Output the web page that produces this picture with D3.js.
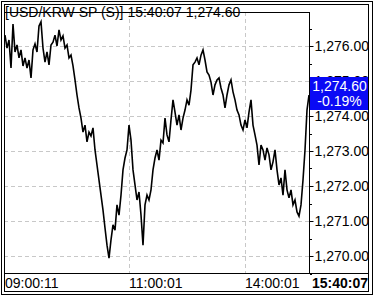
<!DOCTYPE html>
<html><head><meta charset="utf-8">
<script src="https://cdn.jsdelivr.net/npm/d3@7"></script>
<style>html,body{margin:0;padding:0;background:#fff;}svg{display:block;}</style>
</head><body>
<script>
// ---- data ----
const title = "[USD/KRW SP (S)] 15:40:07  1,274.60";
const lastPrice = "1,274.60";
const changePct = "-0.19%";
const prices = [
1276.31,1275.94,1276.17,1275.37,1276.63,1275.83,1276.03,1275.66,1275.89,1275.43,
1275.66,1275.37,1275.60,1275.09,1275.89,1276.06,1275.83,1276.57,1276.69,1275.94,
1275.54,1275.83,1275.46,1276.03,1276.11,1276.31,1276.00,1276.46,1276.17,1276.29,
1275.94,1276.03,1275.66,1275.74,1275.43,1275.03,1274.60,1274.23,1273.94,1273.54,
1273.74,1273.26,1273.54,1273.43,1273.66,1273.03,1272.60,1272.17,1271.74,1271.31,
1270.80,1270.31,1269.94,1270.46,1270.89,1270.74,1271.46,1271.17,1271.74,1272.46,
1272.80,1273.03,1273.74,1273.31,1272.46,1272.03,1271.60,1271.83,1271.17,1270.31,
1271.46,1271.74,1271.60,1271.89,1272.46,1272.80,1273.03,1272.74,1273.31,1273.23,
1273.94,1273.46,1273.26,1273.89,1274.46,1274.11,1273.74,1274.03,1273.60,1273.94,
1274.17,1274.46,1274.31,1274.74,1275.46,1275.54,1275.66,1275.46,1275.74,1275.89,
1275.60,1275.26,1275.17,1274.97,1274.60,1274.89,1275.03,1275.09,1274.80,1274.60,
1274.23,1274.60,1274.89,1275.03,1274.69,1274.46,1274.17,1274.03,1273.74,1273.60,
1273.89,1273.66,1274.11,1274.46,1273.74,1273.46,1273.17,1272.60,1273.17,1273.03,
1272.74,1273.09,1272.89,1272.46,1272.69,1273.03,1272.46,1272.03,1272.23,1271.74,
1272.46,1271.89,1271.66,1271.89,1271.46,1271.60,1271.26,1271.14,1271.46,1272.17,
1273.03,1274.17,1274.60
];
const xTickLabels = ["09:00:11", "11:00:01", "14:00:01"];
const xTickIndex = [0, 62, 120];
const lastTime = "15:40:07";
const yTicks = [1270, 1271, 1272, 1273, 1274, 1275, 1276];
const yMinorTicks = [1269.5, 1270.5, 1271.5, 1272.5, 1273.5, 1274.5, 1275.5, 1276.5];

// ---- layout ----
const W = 375, H = 297;
const plot = {l: 4, t: 12, r: 309, b: 273};
const fontFam = "'Liberation Sans', Arial, sans-serif";

const svg = d3.select("body").append("svg").attr("width", W).attr("height", H)
  .style("font-family", fontFam);

const x = d3.scaleLinear().domain([0, prices.length - 1]).range([5, 309]);
const y = d3.scaleLinear().domain([1270, 1276]).range([256, 46]);

// grid
const grid = svg.append("g").attr("stroke", "#c8c8c8").attr("stroke-dasharray", "4,3").attr("stroke-width", 1);
grid.selectAll("line.h").data(yTicks).join("line")
  .attr("x1", plot.l).attr("x2", plot.r)
  .attr("y1", d => Math.round(y(d)) + 0.5).attr("y2", d => Math.round(y(d)) + 0.5);
grid.selectAll("line.v").data(xTickIndex.slice(1)).join("line")
  .attr("x1", d => Math.round(x(d)) + 0.5).attr("x2", d => Math.round(x(d)) + 0.5)
  .attr("y1", plot.t).attr("y2", plot.b);

// clip for line
svg.append("clipPath").attr("id", "pc").append("rect")
  .attr("x", plot.l).attr("y", plot.t).attr("width", plot.r - plot.l).attr("height", plot.b - plot.t);

const line = d3.line().x((d, i) => x(i)).y(d => y(d));
svg.append("path").datum(prices).attr("d", line)
  .attr("fill", "none").attr("stroke", "#000").attr("stroke-width", 1.6)
  .attr("stroke-linejoin", "miter").attr("clip-path", "url(#pc)");

// y axis on the right
const clipR = svg.append("clipPath").attr("id", "rc").append("rect")
  .attr("x", 310).attr("y", 13).attr("width", 58).attr("height", 260);
const yAxis = d3.axisRight(y).tickValues(yTicks).tickSize(4).tickPadding(1)
  .tickFormat(d => d3.format(",.2f")(d));
const ga = svg.append("g").attr("transform", `translate(${plot.r + 0.5},0)`).call(yAxis)
  .attr("clip-path", "url(#rcx)");
ga.select(".domain").remove();
ga.selectAll("text").attr("font-size", 14).attr("fill", "#000").attr("font-family", fontFam)
  .attr("dy", "0.35em");
ga.selectAll("line").attr("stroke", "#000");
// minor ticks
svg.append("g").selectAll("line").data(yMinorTicks).join("line")
  .attr("x1", plot.r + 1).attr("x2", plot.r + 3)
  .attr("y1", d => Math.round(y(d)) + 0.5).attr("y2", d => Math.round(y(d)) + 0.5)
  .attr("stroke", "#000");
// clip labels at right inner frame
ga.attr("clip-path", null);
svg.append("rect").attr("x", 368).attr("y", 5).attr("width", 7).attr("height", 290).attr("fill", "#fff");

// price box
const boxY = y(+lastPrice.replace(/,/g, ""));
svg.append("rect").attr("x", 310).attr("y", 77).attr("width", 59).attr("height", 33).attr("fill", "#0a0af5");
svg.append("text").attr("x", 339.5).attr("y", 91).attr("text-anchor", "middle")
  .attr("font-size", 14).attr("fill", "#fff").text(lastPrice);
svg.append("text").attr("x", 339.5).attr("y", 106).attr("text-anchor", "middle")
  .attr("font-size", 14).attr("fill", "#fff").text(changePct);

// x labels
svg.append("g").selectAll("text").data(xTickIndex).join("text")
  .attr("x", (d, i) => i === 0 ? 5 : Math.round(x(d)))
  .attr("y", 288).attr("font-size", 14).attr("fill", "#000")
  .text((d, i) => xTickLabels[i]);
svg.append("text").attr("x", 368).attr("y", 288).attr("text-anchor", "end")
  .attr("font-size", 14).attr("font-weight", "bold").attr("fill", "#000").text(lastTime);

// frames
const fr = svg.append("g").attr("fill", "none").attr("stroke", "#000").attr("stroke-width", 1);
fr.append("rect").attr("x", 1.5).attr("y", 1.5).attr("width", 371).attr("height", 293);
fr.append("rect").attr("x", 4.5).attr("y", 4.5).attr("width", 364).attr("height", 287);
fr.append("line").attr("x1", 4).attr("x2", plot.r).attr("y1", plot.t + 0.5).attr("y2", plot.t + 0.5);
fr.append("line").attr("x1", plot.r + 0.5).attr("x2", plot.r + 0.5).attr("y1", plot.t).attr("y2", plot.b);
fr.append("line").attr("x1", 4).attr("x2", 369).attr("y1", plot.b + 0.5).attr("y2", plot.b + 0.5);

// title
svg.append("text").attr("x", 5).attr("y", 17).attr("font-size", 14).attr("fill", "#000").text(title);
</script>
</body></html>
